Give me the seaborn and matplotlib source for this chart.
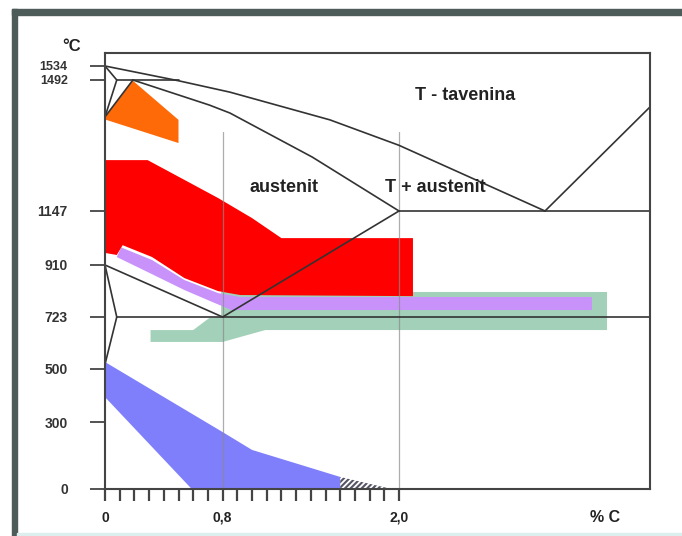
import numpy as np
import pandas as pd
import matplotlib
matplotlib.use('Agg')
import matplotlib.pyplot as plt
from matplotlib.patches import Rectangle
from matplotlib.ticker import FixedLocator
import seaborn as sns

# axis ticks
temp_ticks = [0, 300, 500, 723, 910, 1147, 1492, 1534]
carbon_ticks = [0, 0.8, 2.0]
carbon_labels = ['0', '0,8', '2,0']
carbon_minor = [0.1, 0.2, 0.3, 0.4, 0.5, 0.6, 0.7, 0.9, 1.0, 1.1, 1.2, 1.3,
                1.4, 1.5, 1.6, 1.7, 1.8, 1.9]

# phase diagram lines (% C, °C)
liquidus_c = [0, 0.5, 0.85, 1.53, 2.0, 4.3]
liquidus_t = [1534, 1490, 1460, 1387, 1320, 1147]
liquidus2_c = [4.3, 6.67]
liquidus2_t = [1147, 1421]
solidus_c = [0.19, 0.71, 0.85, 1.41, 2.0]
solidus_t = [1492, 1426, 1405, 1289, 1147]
delta_c = [0, 0.08, 0]
delta_t = [1534, 1492, 1395]
delta2_c = [0.19, 0]
delta2_t = [1492, 1395]
peritectic_c = [0.08, 0.5]
peritectic_t = [1492, 1492]
eutectic_c = [2.0, 6.67]
eutectic_t = [1147, 1147]
eutectoid_c = [0.08, 6.67]
eutectoid_t = [723, 723]
a3_c = [0, 0.8]
a3_t = [910, 723]
acm_c = [0.8, 2.0]
acm_t = [723, 1147]
ferrite_c = [0, 0.08, 0]
ferrite_t = [910, 723, 520]

# heat treatment regions
orange_c = [0, 0.19, 0.5, 0.5, 0]
orange_t = [1395, 1490, 1387, 1326, 1388]
red_c = [0, 0.29, 0.54, 0.77, 1.0, 1.2, 2.22, 2.22, 0.92, 0.77, 0.54, 0.32, 0.12, 0.08, 0]
red_t = [1281, 1281, 1229, 1181, 1116, 1028, 1028, 798, 802, 816, 863, 945, 997, 954, 963]
purple_c = [0.11, 0.32, 0.54, 0.77, 0.92, 5.36, 5.36, 0.86, 0.73, 0.54, 0.32, 0.08]
purple_t = [987, 932, 856, 809, 795, 795, 748, 748, 777, 820, 877, 945]
green_c = [0.31, 0.6, 0.71, 0.79, 0.79, 5.7, 5.7, 1.09, 0.97, 0.8, 0.31]
green_t = [667, 667, 719, 723, 813, 813, 667, 667, 646, 616, 616]
blue_c = [0, 0.8, 1.0, 1.6, 1.6, 0.59, 0]
blue_t = [530, 255, 175, 54, 0, 0, 394]
hatch_c = [1.6, 1.95, 1.6]
hatch_t = [54, 0, 0]
guide_c = [0.8, 2.0]
guide_top = 1355

lines = {
    'liquidus': (liquidus_c, liquidus_t),
    'liquidus2': (liquidus2_c, liquidus2_t),
    'solidus': (solidus_c, solidus_t),
    'delta': (delta_c, delta_t),
    'delta2': (delta2_c, delta2_t),
    'peritectic': (peritectic_c, peritectic_t),
    'eutectic': (eutectic_c, eutectic_t),
    'eutectoid': (eutectoid_c, eutectoid_t),
    'a3': (a3_c, a3_t),
    'acm': (acm_c, acm_t),
    'ferrite': (ferrite_c, ferrite_t),
}
rows = []
for name, (cs, ts) in lines.items():
    for c, t in zip(cs, ts):
        rows.append((name, c, t))
df = pd.DataFrame(rows, columns=['line', 'c', 't'])

# the drawing squeezes both axes unevenly
c_knots = [0, 2.0, 4.3, 6.67]
c_pix = [0, 294, 440, 545]
t_knots = [0, 300, 500, 723, 910, 1147, 1492, 1534, 1575]
t_pix = [0, 67, 120, 172, 224, 278, 409, 423, 436]

sns.set_theme(style='white')
plt.rcParams['font.family'] = ['Liberation Sans', 'DejaVu Sans']

fig = plt.figure(figsize=(6.82, 5.36), dpi=100)
fig.patch.set_facecolor('white')
ax = fig.add_axes([105/682, 47/536, 545/682, 436/536])
ax.set_xscale('function', functions=(lambda v: np.interp(v, c_knots, c_pix),
                                     lambda v: np.interp(v, c_pix, c_knots)))
ax.set_yscale('function', functions=(lambda v: np.interp(v, t_knots, t_pix),
                                     lambda v: np.interp(v, t_pix, t_knots)))

ax.fill(green_c, green_t, color='#a3d0b8', lw=0, zorder=1)
ax.fill(purple_c, purple_t, color='#c992fb', lw=0, zorder=2)
ax.fill(red_c, red_t, color='#ff0000', lw=0, zorder=3)
ax.fill(orange_c, orange_t, color='#ff6a08', lw=0, zorder=3)
ax.fill(blue_c, blue_t, color='#7f7ffb', lw=0, zorder=2)
plt.rcParams['hatch.linewidth'] = 1.5
ax.fill(hatch_c, hatch_t, facecolor='none', edgecolor='#555566', hatch='//////', lw=0, zorder=2)

for gc in guide_c:
    ax.plot([gc, gc], [0, guide_top], color='#8a8a8a', lw=0.9, alpha=0.7, zorder=4)

sns.lineplot(data=df, x='c', y='t', units='line', estimator=None, sort=False,
             color='#333333', lw=1.2, ax=ax, legend=False, zorder=5)

ax.set_xlim(0, 6.67)
ax.set_ylim(0, 1575)
ax.set_xlabel('')
ax.set_ylabel('')

ax.yaxis.set_major_locator(FixedLocator(temp_ticks))
ax.set_yticklabels([str(t) for t in temp_ticks])
ax.xaxis.set_major_locator(FixedLocator(carbon_ticks))
ax.xaxis.set_minor_locator(FixedLocator(carbon_minor))
ax.set_xticklabels(carbon_labels)

ax.tick_params(axis='y', which='major', direction='out', left=True, length=10.8,
               width=1.3, color='#444444', pad=16, labelsize=10, labelcolor='#333333')
ax.tick_params(axis='x', which='both', direction='out', bottom=True, length=8.6,
               width=1.6, color='#444444', pad=7, labelsize=10, labelcolor='#222222')
for lab in ax.get_yticklabels() + ax.get_xticklabels():
    lab.set_fontweight('bold')
for lab in ax.get_yticklabels()[-2:]:
    lab.set_fontsize(9)

for s in ax.spines.values():
    s.set_color('#444444')
    s.set_linewidth(1.5)
    s.set_zorder(6)

ax.text(3.04, 1452, 'T - tavenina', ha='center', va='center', fontsize=13,
        fontweight='bold', color='#222222', zorder=7)
ax.text(1.22, 1208, 'austenit', ha='center', va='center', fontsize=13,
        fontweight='bold', color='#222222', zorder=7)
ax.text(2.57, 1208, 'T + austenit', ha='center', va='center', fontsize=13,
        fontweight='bold', color='#222222', zorder=7)
ax.text(-0.061, 1.016, '°C', transform=ax.transAxes, ha='center', va='center',
        fontsize=12, fontweight='bold', color='#222222')
ax.text(0.917, -0.066, '% C', transform=ax.transAxes, ha='center', va='center',
        fontsize=11.5, fontweight='bold', color='#222222')

# dark frame of the original picture
fig.patches.append(Rectangle((12/682, 0), 5/682, 527/536, transform=fig.transFigure,
                             color='#4e5c59', zorder=0))
fig.patches.append(Rectangle((12/682, 521/536), 670/682, 6/536, transform=fig.transFigure,
                             color='#4e5c59', zorder=0))
fig.patches.append(Rectangle((17/682, 0), 665/682, 3/536, transform=fig.transFigure,
                             color='#dcefee', zorder=0))

plt.savefig('out.png', dpi=100)
